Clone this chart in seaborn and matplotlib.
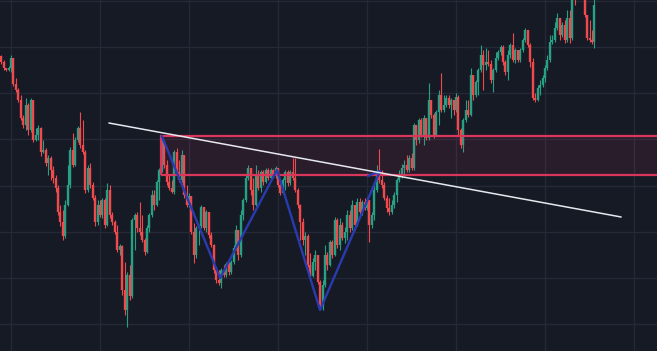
import pandas as pd
import matplotlib
matplotlib.use('Agg')
import matplotlib.pyplot as plt
import matplotlib.patches as patches
import numpy as np
import seaborn as sns

# daily candles (price units), open of a day = close of the day before
first_open = 344
close = [338, 332, 330, 332, 342, 316, 310, 300, 282, 275, 295, 270, 300, 260, 265, 272,
         248, 250, 237, 242, 230, 222, 212, 188, 178, 164, 195, 215, 250, 235, 260, 272,
         255, 248, 210, 232, 215, 202, 178, 195, 185, 200, 175, 210, 185, 178, 168, 150,
         154, 110, 90, 125, 104, 180, 185, 172, 168, 160, 148, 172, 185, 205, 195, 218,
         230, 258, 235, 218, 212, 208, 248, 228, 220, 245, 205, 195, 204, 168, 145, 172,
         174, 193, 172, 188, 165, 155, 130, 120, 117, 130, 125, 136, 128, 138, 152, 170,
         145, 185, 200, 222, 232, 210, 195, 225, 212, 228, 218, 230, 222, 230, 224, 232,
         215, 207, 220, 228, 217, 228, 222, 210, 195, 178, 160, 164, 135, 124, 138, 145,
         118, 95, 115, 145, 135, 158, 145, 180, 155, 175, 162, 168, 185, 172, 195, 175,
         198, 188, 198, 192, 200, 175, 185, 210, 228, 220, 215, 202, 192, 188, 195, 205,
         220, 224, 232, 235, 230, 242, 232, 275, 260, 280, 265, 282, 262, 300, 285, 265,
         288, 305, 290, 295, 302, 295, 300, 290, 303, 270, 255, 280, 290, 285, 325, 305,
         318, 330, 345, 335, 338, 336, 320, 330, 342, 348, 353, 338, 328, 345, 355, 340,
         350, 340, 350, 360, 370, 355, 338, 302, 300, 312, 315, 322, 332, 340, 358, 360,
         372, 382, 365, 375, 360, 382, 362, 410, 402, 425, 430, 415, 385, 362, 360, 358,
         395]
high = [345, 340, 332, 334, 345, 342, 322, 312, 305, 285, 302, 297, 302, 300, 272, 275,
        273, 260, 252, 245, 244, 234, 225, 215, 195, 190, 200, 235, 253, 267, 263, 274,
        288, 280, 250, 235, 237, 218, 205, 200, 200, 202, 202, 217, 215, 188, 180, 175,
        156, 155, 138, 128, 135, 182, 187, 188, 198, 185, 162, 175, 187, 210, 210, 220,
        232, 264, 260, 240, 225, 220, 250, 252, 240, 250, 245, 215, 207, 204, 177, 174,
        175, 195, 193, 190, 188, 168, 156, 132, 130, 132, 135, 138, 138, 140, 155, 175,
        170, 190, 202, 225, 235, 232, 222, 235, 230, 230, 230, 232, 232, 232, 231, 234,
        232, 220, 222, 230, 230, 230, 242, 242, 212, 196, 182, 168, 166, 147, 142, 150,
        145, 120, 120, 155, 148, 160, 160, 183, 182, 182, 178, 173, 190, 190, 200, 195,
        202, 202, 200, 202, 203, 200, 188, 215, 235, 251, 230, 218, 205, 202, 200, 208,
        222, 230, 236, 240, 245, 245, 247, 277, 275, 282, 282, 285, 282, 317, 300, 287,
        290, 310, 327, 305, 305, 305, 302, 300, 307, 305, 272, 282, 300, 300, 332, 325,
        320, 332, 355, 350, 352, 350, 340, 332, 348, 350, 355, 355, 340, 350, 357, 367,
        352, 350, 352, 362, 372, 370, 357, 342, 307, 315, 320, 325, 335, 345, 365, 365,
        378, 387, 382, 378, 380, 390, 390, 412, 415, 428, 435, 432, 417, 385, 380, 370,
        405]
low = [336, 330, 329, 329, 328, 314, 308, 298, 280, 272, 270, 265, 268, 258, 259, 260,
       244, 247, 234, 225, 220, 217, 208, 185, 174, 160, 162, 194, 212, 233, 234, 258,
       252, 246, 207, 208, 212, 200, 174, 175, 183, 182, 172, 174, 182, 175, 166, 148,
       145, 105, 85, 73, 100, 102, 150, 168, 165, 158, 145, 147, 168, 183, 190, 194,
       200, 228, 232, 215, 210, 207, 206, 225, 218, 218, 202, 193, 193, 166, 137, 142,
       155, 172, 170, 168, 162, 153, 127, 117, 115, 112, 123, 123, 125, 126, 136, 150,
       140, 143, 180, 198, 220, 205, 190, 194, 210, 208, 215, 217, 220, 220, 222, 222,
       213, 205, 206, 210, 214, 215, 220, 208, 192, 160, 155, 145, 133, 122, 123, 130,
       116, 90, 90, 113, 130, 134, 142, 144, 152, 150, 160, 157, 160, 168, 170, 170,
       174, 186, 185, 190, 190, 158, 172, 180, 208, 217, 212, 200, 188, 185, 186, 192,
       198, 218, 222, 225, 228, 228, 230, 230, 255, 257, 263, 255, 260, 260, 282, 262,
       264, 275, 288, 288, 293, 292, 282, 285, 288, 265, 252, 248, 278, 283, 284, 300,
       303, 305, 328, 310, 330, 334, 317, 308, 328, 340, 345, 335, 325, 320, 342, 338,
       337, 338, 338, 348, 358, 353, 333, 300, 298, 299, 305, 313, 318, 330, 338, 356,
       358, 370, 360, 363, 357, 358, 357, 360, 395, 402, 422, 412, 383, 360, 358, 356,
       352]

# drawings
box_start, box_top, box_bottom = 64.5, 264, 225
trend_days = [43.6, 250.8]
trend_price = [277, 183]
zig_days = [65, 88.6, 111.6, 129, 153.3, 148.4]
zig_price = [264, 122, 230, 90, 229, 224]

df = pd.DataFrame({'close': close, 'high': high, 'low': low})
df['day'] = np.arange(len(df))
df['open'] = df['close'].shift(1).fillna(first_open)
df['high'] = df[['high', 'open', 'close']].max(axis=1)
df['low'] = df[['low', 'open', 'close']].min(axis=1)
df['up'] = df['close'] >= df['open']

bg = '#161a25'
sns.set_theme(style='dark', rc={'axes.facecolor': bg, 'figure.facecolor': bg,
                                'grid.color': '#252935', 'grid.linewidth': 1.0})

fig = plt.figure(figsize=(6.57, 3.51), dpi=100)
ax = fig.add_axes([0, 0, 1, 1])

green, red = '#27a083', '#f04a4c'
for up, col in [(True, green), (False, red)]:
    d = df[df['up'] == up]
    ax.vlines(d['day'], d['low'], d['high'], color=col, lw=0.8, zorder=3)
    ax.vlines(d['day'], d['open'], d['close'], color=col, lw=1.7, zorder=3)

ax.add_patch(patches.Rectangle((box_start, box_bottom), 300, box_top - box_bottom,
                               facecolor='#f23670', alpha=0.09, edgecolor='none', zorder=4))
ax.add_patch(patches.Rectangle((box_start, box_bottom), 300, box_top - box_bottom,
                               facecolor='none', edgecolor='#d9365c', lw=1.6, zorder=5))

sns.lineplot(x=zig_days, y=zig_price, sort=False, color='#2a3bb0', lw=1.7, ax=ax, zorder=6)
sns.lineplot(x=trend_days, y=trend_price, sort=False, color='#e6e8ee', lw=1.1, ax=ax, zorder=7)

ax.set_xlim(-0.45, 265.3)
ax.set_ylim(49, 400)
ax.set_xticks([4, 40, 76, 112, 148, 184, 220, 256])
ax.set_yticks([399, 353, 307, 261, 214, 168, 122, 76])
ax.grid(True)
ax.tick_params(length=0, labelbottom=False, labelleft=False)
ax.set_xlabel('')
ax.set_ylabel('')
for s in ax.spines.values():
    s.set_visible(False)

fig.savefig('out.png', dpi=100, facecolor=bg)
